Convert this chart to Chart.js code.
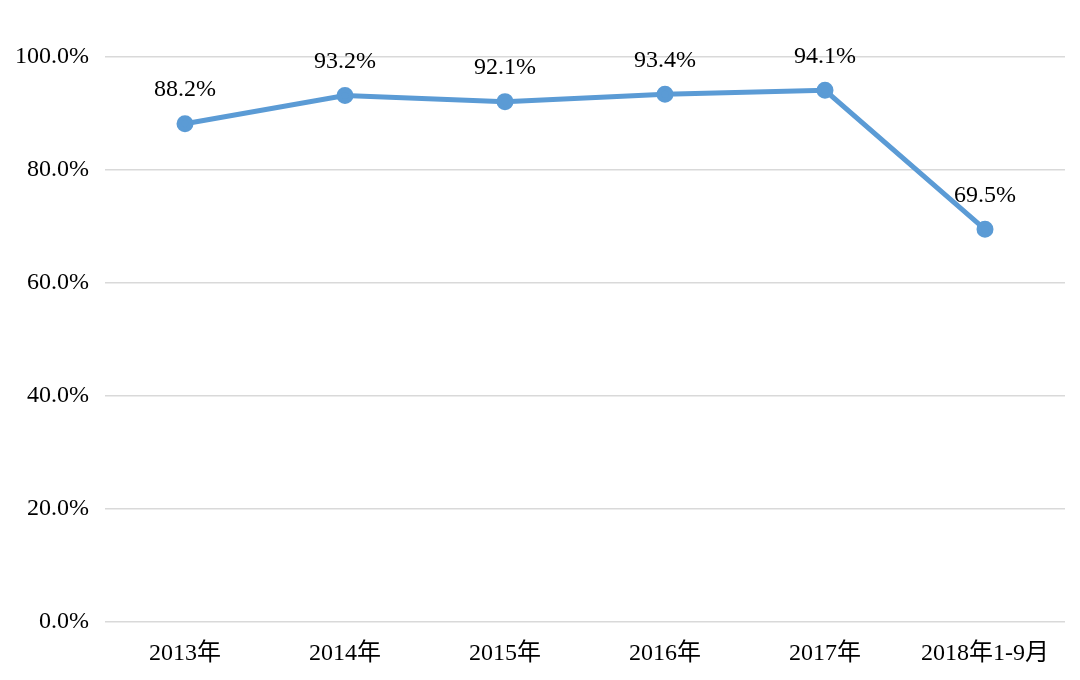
<!DOCTYPE html>
<html lang="zh">
  <head>
    <meta charset="UTF-8" />
    <title>Line Chart</title>
    <script src="https://cdn.jsdelivr.net/npm/chart.js"></script>
    <style>
      body {
        margin: 0;
        background: #ffffff;
      }
      #wrap {
        width: 1080px;
        height: 680px;
      }
    </style>
  </head>
  <body>
    <div id="wrap">
      <canvas id="chart"></canvas>
    </div>

    <script>
      const categories = ["2013年", "2014年", "2015年", "2016年", "2017年", "2018年1-9月"];
      const ratios = [88.2, 93.2, 92.1, 93.4, 94.1, 69.5];
      const yTicks = [0, 20, 40, 60, 80, 100];

      const fontFamily = '"Liberation Serif", "Times New Roman", "Noto Sans CJK SC", serif';

      // simple value labels above each point
      const valueLabels = {
        id: "valueLabels",
        afterDatasetsDraw(chart) {
          const ctx = chart.ctx;
          const meta = chart.getDatasetMeta(0);
          ctx.save();
          ctx.font = "24px " + fontFamily;
          ctx.fillStyle = "#000000";
          ctx.textAlign = "center";
          ctx.textBaseline = "middle";
          meta.data.forEach((pt, i) => {
            ctx.fillText(ratios[i].toFixed(1) + "%", pt.x, pt.y - 34);
          });
          ctx.restore();
        },
      };

      new Chart(document.getElementById("chart"), {
        type: "line",
        data: {
          labels: categories,
          datasets: [
            {
              data: ratios,
              borderColor: "#5B9BD5",
              backgroundColor: "#5B9BD5",
              borderWidth: 5,
              pointRadius: 6,
              pointHoverRadius: 6,
              tension: 0,
            },
          ],
        },
        options: {
          responsive: true,
          maintainAspectRatio: false,
          animation: false,
          layout: {
            padding: { top: 57, right: 15, bottom: 0, left: 0 },
          },
          plugins: {
            legend: { display: false },
            tooltip: { enabled: false },
          },
          scales: {
            x: {
              offset: true,
              afterFit(scale) {
                scale.height = 58;
              },
              grid: { display: false, drawTicks: false },
              border: { display: false },
              ticks: {
                color: "#000000",
                padding: 17,
                maxRotation: 0,
                font: { family: fontFamily, size: 24 },
              },
            },
            y: {
              min: 0,
              max: 100,
              afterFit(scale) {
                scale.width = 105;
              },
              afterBuildTicks(scale) {
                scale.ticks = yTicks.map((v) => ({ value: v }));
              },
              grid: { color: "#D9D9D9", lineWidth: 1.5, drawTicks: false },
              border: { display: false },
              ticks: {
                color: "#000000",
                padding: 16,
                font: { family: fontFamily, size: 24 },
                callback: (v) => v.toFixed(1) + "%",
              },
            },
          },
        },
        plugins: [valueLabels],
      });
    </script>
  </body>
</html>
